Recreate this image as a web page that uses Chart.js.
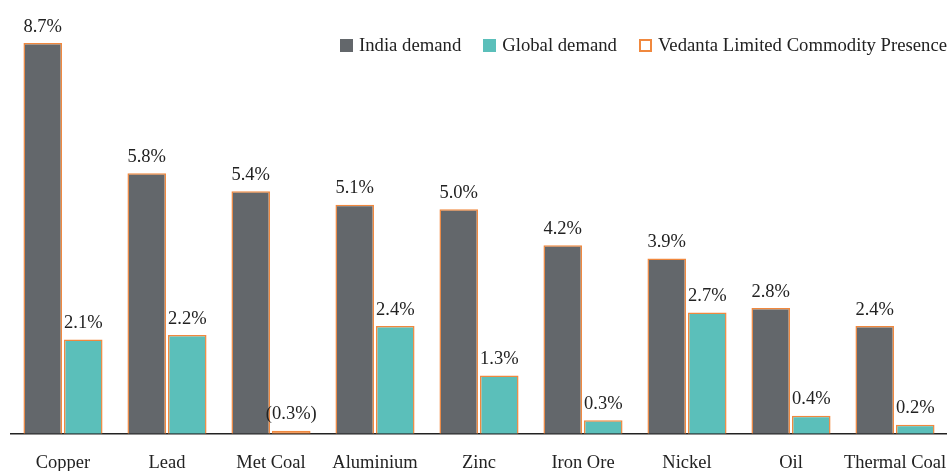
<!DOCTYPE html>
<html>
<head>
<meta charset="utf-8">
<script src="https://cdn.jsdelivr.net/npm/chart.js@4"></script>
<style>
  html, body { margin: 0; padding: 0; background: #fff; }
  #wrap { position: relative; width: 947px; height: 471px; overflow: hidden; }
  #legend {
    position: absolute; top: 34px; left: 340px;
    display: flex; align-items: center;
    font-family: "Liberation Serif", serif; font-size: 18.7px; color: #222;
    white-space: nowrap;
  }
  .item { display: flex; align-items: center; margin-right: 22px; }
  .box { width: 13px; height: 13px; margin-right: 6px; box-sizing: border-box; }
</style>
</head>
<body>
<div id="wrap">
  <canvas id="chart" width="947" height="492"></canvas>
  <div id="legend">
    <div class="item"><span class="box" style="background:#63676b"></span>India demand</div>
    <div class="item"><span class="box" style="background:#5bbfba"></span>Global demand</div>
    <div class="item" style="margin-right:0"><span class="box" style="border:2.5px solid #f0883e"></span>Vedanta Limited Commodity Presence</div>
  </div>
</div>
<script>
const categories = ['Copper', 'Lead', 'Met Coal', 'Aluminium', 'Zinc', 'Iron Ore', 'Nickel', 'Oil', 'Thermal Coal'];
const indiaDemand = [8.7, 5.8, 5.4, 5.1, 5.0, 4.2, 3.9, 2.8, 2.4];
const globalDemand = [2.1, 2.2, -0.3, 2.4, 1.3, 0.3, 2.7, 0.4, 0.2];

const DARK = '#63676b';
const TEAL = '#5bbfba';
const ORANGE = '#f0883e';
const FONT = '"Liberation Serif", serif';

// etiquetas de valor acima das barras
const valueLabels = {
  id: 'valueLabels',
  afterDatasetsDraw(chart) {
    const ctx = chart.ctx;
    ctx.save();
    ctx.font = '18.5px ' + FONT;
    ctx.fillStyle = '#222';
    ctx.textAlign = 'center';
    ctx.textBaseline = 'bottom';
    const raw = [indiaDemand, globalDemand];
    chart.data.datasets.forEach((ds, i) => {
      chart.getDatasetMeta(i).data.forEach((bar, j) => {
        const v = raw[i][j];
        const txt = v < 0 ? '(' + Math.abs(v).toFixed(1) + '%)' : v.toFixed(1) + '%';
        ctx.fillText(txt, bar.x, Math.min(bar.y, chart.scales.y.getPixelForValue(0)) - 7);
      });
    });
    ctx.restore();
  }
};

new Chart(document.getElementById('chart'), {
  type: 'bar',
  data: {
    labels: categories,
    datasets: [{
      label: 'India demand',
      data: indiaDemand,
      backgroundColor: DARK,
      borderColor: ORANGE,
      borderWidth: 1.5
    }, {
      label: 'Global demand',
      data: globalDemand.map(v => Math.max(v, 0)),
      // barra negativa (Met Coal) aparece só como traço laranja na base
      backgroundColor: globalDemand.map(v => v < 0 ? ORANGE : TEAL),
      borderColor: ORANGE,
      borderWidth: 1.5,
      minBarLength: 3
    }]
  },
  options: {
    responsive: false,
    animation: false,
    categoryPercentage: 0.78,
    barPercentage: 0.95,
    layout: { padding: { left: 11, right: 0, top: 43, bottom: 0 } },
    plugins: {
      legend: { display: false },
      tooltip: { enabled: false }
    },
    scales: {
      x: {
        grid: { display: false, drawTicks: false },
        border: { display: true, color: '#222', width: 1.5 },
        ticks: {
          color: '#222',
          font: { family: FONT, size: 18.5 },
          padding: 18,
          autoSkip: false,
          maxRotation: 0
        },
        afterFit(scale) {
          scale.paddingRight = 0;
          scale.paddingLeft = 0;
        }
      },
      y: {
        display: false,
        min: 0,
        max: 8.7
      }
    }
  },
  plugins: [valueLabels]
});
</script>
</body>
</html>
